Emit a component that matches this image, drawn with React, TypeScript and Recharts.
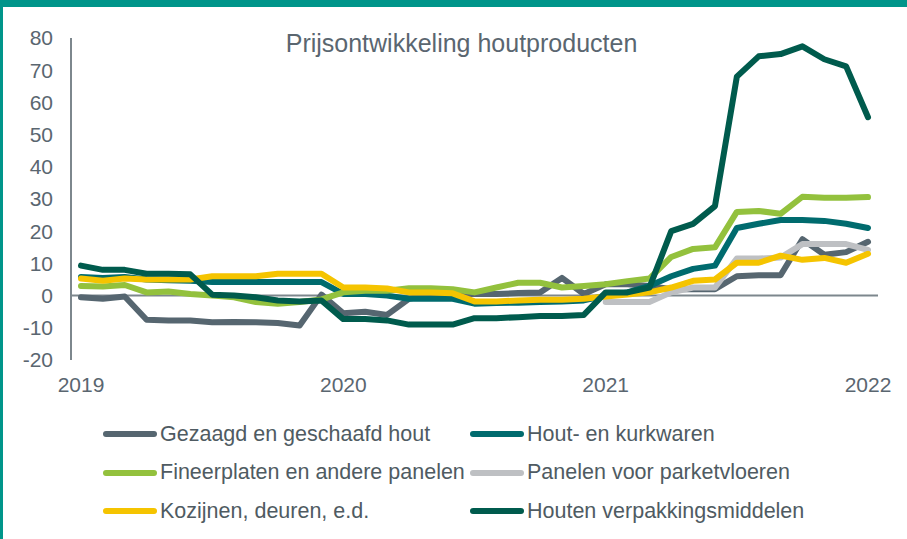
import React from 'react'
import { LineChart, Line, XAxis, YAxis, ReferenceLine } from 'recharts'

// monthly index, jan 2019 .. jan 2022
const months = [
  '2019-01', '2019-02', '2019-03', '2019-04', '2019-05', '2019-06', '2019-07', '2019-08', '2019-09', '2019-10', '2019-11', '2019-12',
  '2020-01', '2020-02', '2020-03', '2020-04', '2020-05', '2020-06', '2020-07', '2020-08', '2020-09', '2020-10', '2020-11', '2020-12',
  '2021-01', '2021-02', '2021-03', '2021-04', '2021-05', '2021-06', '2021-07', '2021-08', '2021-09', '2021-10', '2021-11', '2021-12',
  '2022-01',
]
const yearTicks = ['2019-01', '2020-01', '2021-01', '2022-01']
const yTicks = [-20, -10, 0, 10, 20, 30, 40, 50, 60, 70, 80]

const gezaagd = [-0.5, -1, -0.3, -7.5, -7.7, -7.7, -8.3, -8.2, -8.3, -8.5, -9.3, 0.3, -5.5, -5, -6, -1, 0.3, 0.5, 0.5, 0.5, 0.8, 1, 5.5, 0.5, 3.5, 3.5, 3, 2, 2, 2, 6, 6.3, 6.3, 17.5, 12.7, 13.5, 16.7]
const houtKurk = [5.8, 5.5, 5.8, 5, 4.8, 4.6, 4.2, 4.2, 4.2, 4.2, 4.2, 4.2, 0.5, 0.5, 0, -1, -1, -1, -2.5, -2.3, -2.2, -2, -1.8, -1.5, 0, 1, 3, 6, 8.3, 9.3, 21, 22.3, 23.5, 23.5, 23.2, 22.3, 21]
const fineer = [3, 2.8, 3.3, 1, 1.3, 0.5, 0, -0.5, -2, -2.5, -2, -1.2, 1, 1.5, 1.5, 2.3, 2.3, 2, 1, 2.5, 4, 4, 2.5, 3, 3.5, 4.5, 5.3, 12, 14.5, 15, 26, 26.3, 25.4, 30.7, 30.4, 30.4, 30.6]
const parket = [null, null, null, null, null, null, null, null, null, null, null, null, null, null, null, null, null, null, null, null, null, null, null, null, -2, -2, -2, 1, 2.5, 2.5, 11.5, 11.5, 11.8, 16, 16, 16, 14.2]
const kozijnen = [5.3, 4.6, 5.3, 5, 5, 5, 6, 6, 6, 6.8, 6.8, 6.8, 2.5, 2.5, 2.2, 1, 1, 0.7, -1.8, -1.8, -1.5, -1.3, -1.3, -1, -0.3, 0.3, 1, 2.5, 4.6, 5, 10.2, 10.2, 12.4, 11.1, 11.7, 10.2, 13]
const verpakking = [9.3, 8, 8, 6.8, 6.8, 6.6, 0.3, 0, -0.5, -1.5, -1.8, -1.5, -7.3, -7.3, -7.7, -9, -9, -9, -7, -7, -6.7, -6.3, -6.3, -6, 1, 1, 2.5, 20, 22.3, 27.8, 68, 74.3, 75, 77.4, 73.4, 71.2, 55.4]

const series = [
  { key: 'gezaagd', name: 'Gezaagd en geschaafd hout', color: '#566670', values: gezaagd },
  { key: 'houtKurk', name: 'Hout- en kurkwaren', color: '#006b6e', values: houtKurk },
  { key: 'fineer', name: 'Fineerplaten en andere panelen', color: '#93c13d', values: fineer },
  { key: 'parket', name: 'Panelen voor parketvloeren', color: '#bec0c3', values: parket },
  { key: 'kozijnen', name: 'Kozijnen, deuren, e.d.', color: '#f5c400', values: kozijnen },
  { key: 'verpakking', name: 'Houten verpakkingsmiddelen', color: '#005b4d', values: verpakking },
]

const data = months.map((m, i) => {
  const row: Record<string, string | number | null> = { month: m }
  series.forEach(s => { row[s.key] = s.values[i] })
  return row
})

const FONT = '"Liberation Sans", Arial, sans-serif'
const TEXT = '#5a6670'

export default function App() {
  return (
    <div style={{ position: 'fixed', left: 0, top: 0, width: 907, height: 539, background: '#fff', fontFamily: FONT, overflow: 'hidden' }}>
      <div style={{ position: 'absolute', left: 0, top: 0, width: 907, height: 7, background: '#00958a' }} />
      <div style={{ position: 'absolute', left: 0, top: 0, width: 3, height: 539, background: '#00958a' }} />

      <LineChart width={907} height={539} data={data} margin={{ top: 38, right: 29, bottom: 149, left: 0 }}>
        <XAxis
          dataKey="month"
          ticks={yearTicks}
          interval={0}
          tickFormatter={(v: string) => v.slice(0, 4)}
          axisLine={false}
          tickLine={false}
          tickSize={0}
          tickMargin={17}
          padding={{ left: 10, right: 10 }}
          tick={{ fill: TEXT, fontSize: 21, fontFamily: FONT }}
        />
        <YAxis
          domain={[-20, 80]}
          ticks={yTicks}
          interval={0}
          width={71}
          tickLine={false}
          tickSize={0}
          tickMargin={18}
          axisLine={{ stroke: '#7d878d', strokeWidth: 2 }}
          tick={{ fill: TEXT, fontSize: 21, fontFamily: FONT }}
        />
        <ReferenceLine y={0} stroke="#7d878d" strokeWidth={2} />
        {series.map(s => (
          <Line
            key={s.key}
            dataKey={s.key}
            name={s.name}
            stroke={s.color}
            strokeWidth={6}
            strokeLinecap="round"
            strokeLinejoin="round"
            dot={false}
            activeDot={false}
            isAnimationActive={false}
          />
        ))}
      </LineChart>

      <div style={{ position: 'absolute', left: 0, width: 907, top: 29, textAlign: 'center', paddingLeft: 16, boxSizing: 'border-box', color: TEXT, fontSize: 25 }}>
        Prijsontwikkeling houtproducten
      </div>

      {series.map((s, i) => {
        const col = i % 2
        const row = Math.floor(i / 2)
        const left = col === 0 ? 103 : 470
        const top = 434 + row * 38.5
        return (
          <div key={s.key} style={{ position: 'absolute', left, top: top - 14, height: 28, display: 'flex', alignItems: 'center', color: '#4f5b62', fontSize: 21.5, whiteSpace: 'nowrap' }}>
            <span style={{ display: 'inline-block', width: 54, height: 6, borderRadius: 3, background: s.color, marginRight: 3 }} />
            {s.name}
          </div>
        )
      })}
    </div>
  )
}
